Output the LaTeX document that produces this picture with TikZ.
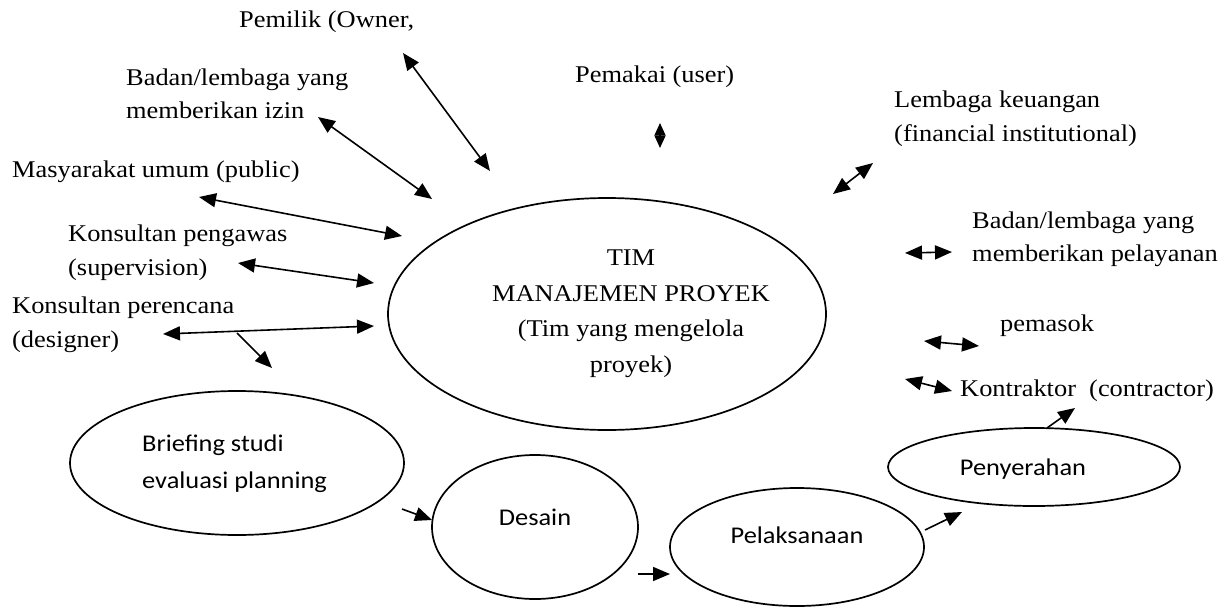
\documentclass[tikz,border=0pt]{standalone}
\usepackage{fontspec}
\setmainfont{Liberation Serif}[FakeStretch=1.1]
\newfontfamily\calibri{Carlito}[FakeStretch=1.1]
\usetikzlibrary{arrows.meta,shapes.geometric}

\begin{document}
\begin{tikzpicture}[x=1pt,y=-1pt,
  lbl/.style={inner sep=0pt, anchor=base west, align=left,
              font=\fontsize{24}{34}\selectfont},
  oval/.style={draw, ellipse, line width=1.7pt, inner sep=0pt},
  stxt/.style={inner sep=0pt, anchor=base, font=\calibri\fontsize{24}{37}\selectfont},
  link/.style={line width=1.6pt, {Triangle[length=17pt,width=14pt]}-{Triangle[length=17pt,width=14pt]}},
  lead/.style={line width=1.6pt, -{Triangle[length=17pt,width=14pt]}}]

\useasboundingbox (0,0) rectangle (1226,608);

% central team and project phases (multi-line nodes sit on their last baseline)
\node[oval, minimum width=438pt, minimum height=232pt] (tim) at (607,314) {};
\node[inner sep=0pt, anchor=base, align=center, font=\fontsize{24}{35.5}\selectfont]
  (timtext) at (631,372) {TIM\\MANAJEMEN PROYEK\\(Tim yang mengelola\\proyek)};

\node[oval, minimum width=334pt, minimum height=144pt] (brief) at (237,463) {};
\node[stxt, anchor=base west, align=left] (brieftext) at (142,488)
  {Briefing studi\\evaluasi planning};
\node[oval, minimum width=206pt, minimum height=144pt] (desain) at (535,527) {};
\node[stxt] (desaintext) at (535,525) {Desain};
\node[oval, minimum width=254pt, minimum height=118pt] (pelaks) at (797,547) {};
\node[stxt] (pelakstext) at (797,543) {Pelaksanaan};
\node[oval, minimum width=292pt, minimum height=78pt] (serah) at (1034,467) {};
\node[stxt] (serahtext) at (1023,475) {Penyerahan};

% stakeholders
\node[lbl] (owner) at (239,27) {Pemilik (Owner,};
\node[lbl, font=\fontsize{24}{33}\selectfont] (izin) at (126,118)
  {Badan/lembaga yang\\memberikan izin};
\node[lbl] (public) at (12,177) {Masyarakat umum (public)};
\node[lbl] (pengawas) at (68,275) {Konsultan pengawas\\(supervision)};
\node[lbl] (perencana) at (12,347) {Konsultan perencana\\(designer)};
\node[lbl] (user) at (575,82) {Pemakai (user)};
\node[lbl] (keuangan) at (894,141) {Lembaga keuangan\\(financial institutional)};
\node[lbl, font=\fontsize{24}{33}\selectfont] (pelayanan) at (972,261)
  {Badan/lembaga yang\\memberikan pelayanan};
\node[lbl] (pemasok) at (1000,331) {pemasok};
\node[lbl] (kontraktor) at (960,396) {Kontraktor\ \ (contractor)};

% arrow end points
\coordinate (ownerA) at (403,53);   \coordinate (ownerB) at (490,171);
\coordinate (izinA) at (318,117);   \coordinate (izinB) at (432,199);
\coordinate (publicA) at (199,197); \coordinate (publicB) at (402,236);
\coordinate (pengA) at (238,263);   \coordinate (pengB) at (374,283);
\coordinate (perA) at (163,334);    \coordinate (perB) at (374,326);
\coordinate (perC) at (237,333);    \coordinate (perD) at (272,368);
\coordinate (userA) at (660,123);   \coordinate (userB) at (660,148);
\coordinate (uangA) at (833,194);   \coordinate (uangB) at (873,163);
\coordinate (layA) at (905,253);    \coordinate (layB) at (952,252);
\coordinate (pasokA) at (924,341);  \coordinate (pasokB) at (979,346);
\coordinate (kontA) at (905,379);   \coordinate (kontB) at (952,391);
\coordinate (kontC) at (1047,428);  \coordinate (kontD) at (1075,408);
\coordinate (briefA) at (402,509);  \coordinate (briefB) at (432,520);
\coordinate (desA) at (638,574);    \coordinate (desB) at (670,574);
\coordinate (pelA) at (925,530);    \coordinate (pelB) at (962,512);

% two-way links between stakeholders and the team
\draw[link] (ownerA) -- (ownerB);
\draw[link] (izinA) -- (izinB);
\draw[link] (publicA) -- (publicB);
\draw[link] (pengA) -- (pengB);
\draw[link] (perA) -- (perB);
\draw[line width=1.5pt, {Triangle[length=12.5pt,width=11pt]}-{Triangle[length=12.5pt,width=11pt]}] (userA) -- (userB);
\draw[link] (uangA) -- (uangB);
\draw[link] (layA) -- (layB);
\draw[link] (pasokA) -- (pasokB);
\draw[link] (kontA) -- (kontB);

% project flow
\draw[lead] (perC) -- (perD);
\draw[lead] (briefA) -- (briefB);
\draw[lead] (desA) -- (desB);
\draw[lead] (pelA) -- (pelB);
\draw[lead] (kontC) -- (kontD);
\end{tikzpicture}
\end{document}
